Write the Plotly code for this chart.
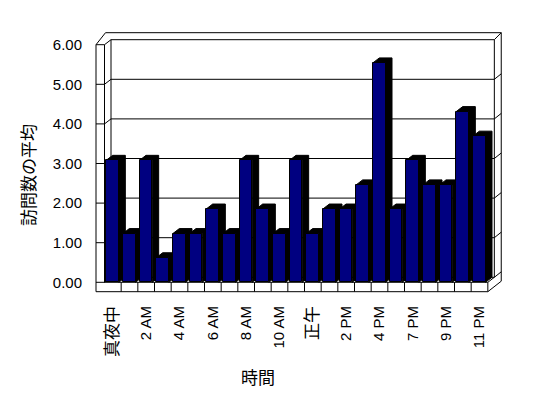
import plotly.graph_objects as go

# ---- data ----
hours = ["真夜中", "1 AM", "2 AM", "3 AM", "4 AM", "5 AM", "6 AM", "7 AM", "8 AM",
         "9 AM", "10 AM", "11 AM", "正午", "1 PM", "2 PM", "3 PM", "4 PM", "5 PM",
         "7 PM", "8 PM", "9 PM", "10 PM", "11 PM"]
avg_visits = [3.08, 1.23, 3.08, 0.62, 1.23, 1.23, 1.85, 1.23, 3.08, 1.85, 1.23, 3.08,
              1.23, 1.85, 1.85, 2.46, 5.54, 1.85, 3.08, 2.46, 2.46, 4.31, 3.69]
y_ticks = [0, 1, 2, 3, 4, 5, 6]
y_ticktext = ["0.00", "1.00", "2.00", "3.00", "4.00", "5.00", "6.00"]
x_title = "時間"
y_title = "訪問数の平均"

NAVY = "#000080"
BLACK = "#000000"
FONT = "Liberation Sans, Noto Sans CJK JP, sans-serif"
CJK = "Noto Sans CJK JP"

# ---- geometry (in axis units) ----
UX = 16.667   # px per category
UY = 39.6     # px per y unit
n = len(hours)
idx = list(range(n))
YMAX = y_ticks[-1]
DX, DY = 6.5 / UX, 5.0 / UY          # depth offset (bars / back wall face)
DX2, DY2 = 13.4 / UX, 10.5 / UY      # depth offset (outer wall)
xL = -0.5 - 8.5 / UX                 # outer left wall edge
x0 = -0.5                            # inner left wall edge
x1 = n - 0.5                         # right end of floor
yF = -9.4 / UY                       # floor bottom
BW, BOFF = 0.76, -0.40               # bar width and offset

def P(pts, close=True):
    s = "M " + " L ".join(f"{a:.4f},{b:.4f}" for a, b in pts)
    return s + (" Z" if close else "")

shapes = []
def add(path, fill=None, width=1):
    shapes.append(dict(type="path", path=path, xref="x", yref="y", layer="below",
                       fillcolor=fill if fill else "rgba(0,0,0,0)",
                       line=dict(color=BLACK, width=width)))

# outer silhouette of the walls/floor
add(P([(xL, yF), (xL, YMAX), (xL + 9.5 / UX, YMAX + DY2 + 1.5 / UY),
       (x1 + DX2, YMAX + DY2 + 1.5 / UY), (x1 + DX2, yF + DY2), (x1, yF)]), fill="white")
# back wall front face
add(P([(x0 + DX, DY), (x0 + DX, YMAX + DY), (x1 + DX, YMAX + DY), (x1 + DX, DY)]))
# left wall inner face and top
add(P([(x0, 0), (x0, YMAX)], close=False))
add(P([(xL, YMAX), (x0, YMAX), (x0 + DX, YMAX + DY)], close=False))
add(P([(x1 + DX, YMAX + DY), (x1 + DX2, YMAX + DY2 + 1.5 / UY)], close=False))
# gridlines
for k in y_ticks[1:-1]:
    add(P([(xL, k), (x0, k), (x0 + DX, k + DY), (x1 + DX, k + DY), (x1 + DX2, k + DY2)], close=False))
# floor
add(P([(x0, 0), (x0 + DX, DY)], close=False))
add(P([(xL, 0), (x1, 0), (x1 + DX, DY), (x1 + DX2, DY2)], close=False))
add(P([(x1, yF), (x1, 0)], close=False))
for k in range(1, n):
    add(P([(k - 0.5, yF), (k - 0.5, 0)], close=False))

# bar tops and sides (black), behind the fronts
for i, v in zip(idx, avg_visits):
    xl = i + BOFF
    xr = xl + BW
    add(P([(xl, v), (xl + DX, v + DY), (xr + DX, v + DY), (xr + DX, DY), (xr, 0), (xr, v)]),
        fill=BLACK)

fig = go.Figure()
fig.add_trace(go.Bar(x=idx, y=avg_visits, width=BW, offset=BOFF,
                     marker=dict(color=NAVY, line=dict(color=BLACK, width=1)),
                     hoverinfo="skip"))

def tick_label(h):
    # Japanese labels render a little larger in the reference
    if any(ord(c) > 127 for c in h):
        return f'<span style="font-size:17px">{h}</span>'
    return h

# page has an 8px body margin: figure coords = page coords - 8
fig.update_layout(
    width=548, height=398,
    margin=dict(l=86, r=51, t=22, b=112, autoexpand=False),
    paper_bgcolor="white", plot_bgcolor="white",
    showlegend=False, bargap=0,
    font=dict(family=FONT, size=15, color=BLACK),
    shapes=shapes,
    xaxis=dict(range=[-0.5 - 10.5 / UX, -0.5 - 10.5 / UX + 411 / UX],
               tickvals=idx[::2], ticktext=[tick_label(h) for h in hours[::2]],
               tickangle=-90,
               showgrid=False, zeroline=False, showline=False, automargin=False,
               ticks="outside", ticklen=5, tickcolor="rgba(0,0,0,0)",
               tickfont=dict(family=FONT, size=15, color=BLACK)),
    yaxis=dict(range=[-11.7 / UY, -11.7 / UY + 264 / UY],
               tickvals=y_ticks, ticktext=y_ticktext,
               showgrid=False, zeroline=False, showline=False, automargin=False,
               ticks="outside", ticklen=8, tickcolor="rgba(0,0,0,0)",
               tickfont=dict(family=FONT, size=15, color=BLACK)),
    annotations=[
        dict(text=x_title, xref="paper", yref="paper",
             x=(258 - 94) / 411, y=(294 - 376) / 264, showarrow=False,
             xanchor="center", yanchor="middle",
             font=dict(family=CJK, size=17, color=BLACK)),
        dict(text=y_title, xref="paper", yref="paper", textangle=-90,
             x=(27 - 94) / 411, y=(294 - 175) / 264, showarrow=False,
             xanchor="center", yanchor="middle",
             font=dict(family=CJK, size=17, color=BLACK)),
    ],
)

fig.write_html("out.html")
